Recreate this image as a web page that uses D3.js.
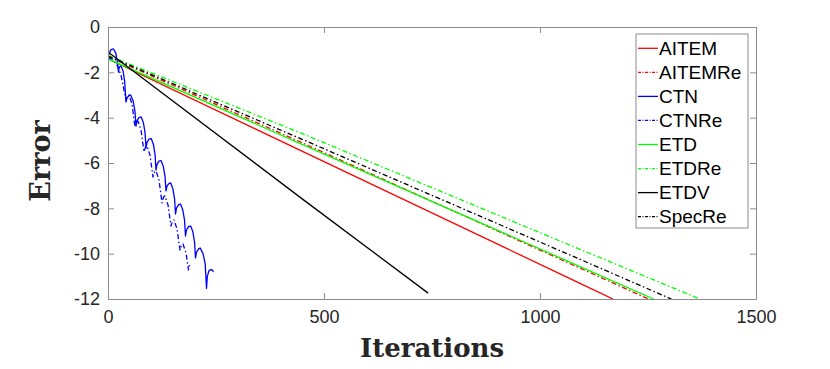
<!DOCTYPE html>
<html>
<head>
<meta charset="utf-8">
<script src="https://cdn.jsdelivr.net/npm/d3@7"></script>
<style>
  html, body { margin: 0; padding: 0; background: #fff; }
  svg { display: block; }
</style>
</head>
<body>
<svg id="chart" width="830" height="369"></svg>
<script>
// ---------------- data ----------------
const xTickValues = [0, 500, 1000, 1500];
const xTickLabels = ["0", "500", "1000", "1500"];
const yTickValues = [0, -2, -4, -6, -8, -10, -12];
const yTickLabels = ["0", "-2", "-4", "-6", "-8", "-10", "-12"];
const xTitle = "Iterations";
const yTitle = "Error";

const seriesNames = ["AITEM", "AITEMRe", "CTN", "CTNRe", "ETD", "ETDRe", "ETDV", "SpecRe"];

// [iteration, error]
const aitem   = [[0, -1.40], [444, -5.43], [1092.6, -11.31], [1169, -12]];
const aitemRe = [[0, -1.30], [444, -5.06], [1251, -12]];
const ctn = [
  [0, -1.35], [3, -1.15], [7, -1.0], [12.7, -0.97], [18, -1.15], [21.5, -1.5], [24.3, -1.99],
  [25.5, -1.82], [27.5, -1.74], [30, -1.72], [35, -1.95], [38.5, -2.4], [41.7, -3.31],
  [44, -3.12], [48.6, -3.03], [52.5, -3.0], [58, -3.25], [62.3, -3.7], [64.8, -4.37],
  [67.1, -4.13], [71.8, -4.0], [76.9, -3.97], [81.9, -4.22], [85.8, -4.67], [88, -5.34],
  [90.3, -5.09], [94.9, -4.95], [100, -4.92], [105, -5.17], [108.9, -5.62], [111.1, -6.31],
  [113.4, -6.06], [118.1, -5.92], [122.7, -5.89], [127.9, -6.14], [132, -6.59], [134.3, -7.23],
  [136.5, -7.02], [140.9, -6.91], [145.1, -6.88], [150.1, -7.13], [154.1, -7.58], [156.3, -8.25],
  [158.6, -7.99], [163.2, -7.84], [167.8, -7.81], [173, -8.06], [177.1, -8.51], [179.4, -9.22],
  [181.7, -8.96], [186.3, -8.81], [191.4, -8.78], [196.4, -9.03], [200.3, -9.48], [202.5, -10.19],
  [205, -9.93], [210.2, -9.78], [213.4, -9.75], [220, -10.0], [225, -10.45], [228, -11.53],
  [230, -11.0], [233.5, -10.76], [237.7, -10.70], [241, -10.72], [244.2, -10.8]
];
const ctnRe = [
  [0, -1.40], [9.3, -1.40], [20.8, -1.68], [30.1, -2.12], [37, -2.78], [41.7, -3.22],
  [45, -3.05], [48.6, -3.0], [55.6, -3.40], [62.5, -4.41],
  [65.5, -4.2], [69.4, -4.15], [76.4, -4.54], [83.3, -5.51],
  [86.5, -5.3], [90.3, -5.25], [97.2, -5.65], [104.2, -6.62],
  [107.5, -6.4], [111.1, -6.35], [118.1, -6.75], [125, -7.76],
  [128.5, -7.5], [131.9, -7.45], [138.9, -7.85], [145.8, -8.78],
  [149.5, -8.56], [152.8, -8.51], [159.7, -8.91], [166.7, -9.84],
  [170, -9.62], [173.6, -9.57], [180.6, -9.97], [186.3, -10.72],
  [188, -10.55], [189.8, -10.5], [192, -10.59]
];
const etd    = [[0, -1.41], [444, -5.13], [1092.6, -10.57], [1263, -12]];
const etdRe  = [[0, -1.25], [444, -4.66], [1092.6, -9.81], [1370, -12]];
const etdv   = [[0, -1.10], [448, -7.56], [741, -11.74]];
const specRe = [[0, -1.28], [444, -4.91], [1092.6, -10.25], [1304, -12]];

const seriesData = [aitem, aitemRe, ctn, ctnRe, etd, etdRe, etdv, specRe];
const seriesColors = ["#ff0000", "#ff0000", "#0000ff", "#0000ff", "#00ff00", "#00ff00", "#000000", "#000000"];
const seriesDashed = [false, true, false, true, false, true, false, true];

// ---------------- layout ----------------
const W = 830, H = 369;
const plot = { left: 108, top: 27, right: 756, bottom: 299 };
const axisColor = "#8c8c8c";
const textColor = "#262626";
const dashPattern = "5,2.5,1.5,2.5";

const svg = d3.select("#chart");
svg.append("rect").attr("width", W).attr("height", H).attr("fill", "#fff");

const x = d3.scaleLinear().domain([0, 1500]).range([plot.left, plot.right]);
const y = d3.scaleLinear().domain([-12, 0]).range([plot.bottom, plot.top]);

svg.append("defs").append("clipPath").attr("id", "clip")
  .append("rect")
  .attr("x", plot.left).attr("y", plot.top)
  .attr("width", plot.right - plot.left).attr("height", plot.bottom - plot.top);

// lines
const line = d3.line().x(d => x(d[0])).y(d => y(d[1]));
const gLines = svg.append("g").attr("clip-path", "url(#clip)");
seriesData.forEach((data, i) => {
  gLines.append("path")
    .datum(data)
    .attr("d", line)
    .attr("fill", "none")
    .attr("stroke", seriesColors[i])
    .attr("stroke-width", 1.3)
    .attr("stroke-dasharray", seriesDashed[i] ? dashPattern : null)
    .attr("stroke-linejoin", "round");
});

// axes
function styleAxis(g) {
  g.select(".domain").attr("stroke", axisColor).attr("stroke-width", 1);
  g.selectAll(".tick line").attr("stroke", axisColor).attr("stroke-width", 1);
  g.selectAll(".tick text")
    .attr("fill", textColor)
    .style("font-family", "'Liberation Sans', Arial, sans-serif")
    .style("font-size", "18px");
}

const xAxis = d3.axisBottom(x).tickValues(xTickValues)
  .tickFormat((d, i) => xTickLabels[i]).tickSizeInner(-6).tickSizeOuter(0).tickPadding(11);
svg.append("g").attr("transform", `translate(0,${plot.bottom})`).call(xAxis).call(styleAxis);

const xAxisTop = d3.axisTop(x).tickValues(xTickValues)
  .tickFormat("").tickSizeInner(-6).tickSizeOuter(0);
svg.append("g").attr("transform", `translate(0,${plot.top})`).call(xAxisTop).call(styleAxis);

const yAxis = d3.axisLeft(y).tickValues(yTickValues)
  .tickFormat((d, i) => yTickLabels[i]).tickSizeInner(-6).tickSizeOuter(0).tickPadding(8);
svg.append("g").attr("transform", `translate(${plot.left},0)`).call(yAxis).call(styleAxis);

const yAxisRight = d3.axisRight(y).tickValues(yTickValues)
  .tickFormat("").tickSizeInner(-6).tickSizeOuter(0);
svg.append("g").attr("transform", `translate(${plot.right},0)`).call(yAxisRight).call(styleAxis);

// axis titles
svg.append("text")
  .attr("x", (plot.left + plot.right) / 2)
  .attr("y", 357)
  .attr("text-anchor", "middle")
  .attr("fill", textColor)
  .style("font-family", "'DejaVu Serif', serif")
  .style("font-weight", "bold")
  .style("font-size", "26px")
  .text(xTitle);

svg.append("text")
  .attr("transform", `translate(50,${(plot.top + plot.bottom) / 2 - 2}) rotate(-90)`)
  .attr("text-anchor", "middle")
  .attr("fill", textColor)
  .style("font-family", "'DejaVu Serif', serif")
  .style("font-weight", "bold")
  .style("font-size", "27px")
  .text(yTitle);

// legend
const legend = { left: 636, top: 34, width: 112, height: 194, firstY: 48.3, step: 24.05 };
const gLeg = svg.append("g");
gLeg.append("rect")
  .attr("x", legend.left).attr("y", legend.top)
  .attr("width", legend.width).attr("height", legend.height)
  .attr("fill", "#fff").attr("stroke", axisColor).attr("stroke-width", 1);
seriesNames.forEach((name, i) => {
  const cy = legend.firstY + i * legend.step;
  gLeg.append("line")
    .attr("x1", legend.left + 2).attr("x2", legend.left + 22)
    .attr("y1", cy).attr("y2", cy)
    .attr("stroke", seriesColors[i]).attr("stroke-width", 1.3)
    .attr("stroke-dasharray", seriesDashed[i] ? "3,1.5,1,1.5" : null);
  gLeg.append("text")
    .attr("x", legend.left + 23).attr("y", cy)
    .attr("dy", "0.36em")
    .attr("fill", "#000")
    .style("font-family", "'Liberation Sans', Arial, sans-serif")
    .style("font-size", "19px")
    .text(name);
});
</script>
</body>
</html>
